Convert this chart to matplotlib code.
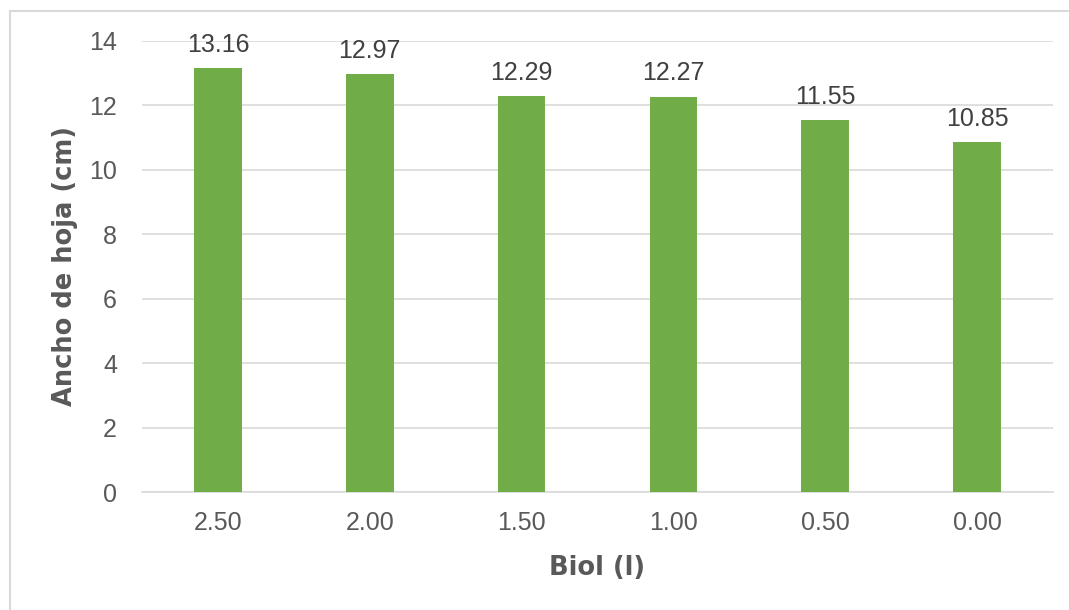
import matplotlib.pyplot as plt
from matplotlib.patches import Rectangle

# Ancho de hoja por dosis de biol
dosis = ["2.50", "2.00", "1.50", "1.00", "0.50", "0.00"]
ancho = [13.16, 12.97, 12.29, 12.27, 11.55, 10.85]

plt.rcParams["font.family"] = ["Liberation Sans", "DejaVu Sans"]
gris = "#595959"

fig = plt.figure(figsize=(10.69, 6.10), dpi=100)
ax = fig.add_axes([142 / 1069, 1 - 492 / 610, 911 / 1069, 451 / 610])

x = range(len(dosis))
bars = ax.bar(x, ancho, width=0.315, color="#70ad47", zorder=3)
for b, v in zip(bars, ancho):
    ax.text(b.get_x() + b.get_width() / 2, v + 0.35, f"{v:.2f}",
            ha="center", va="bottom", fontsize=18, color="#404040")

ax.set_xlim(-0.5, len(dosis) - 0.5)
ax.set_ylim(0, 14)
ax.set_yticks(range(0, 15, 2))
ax.set_xticks(list(x))
ax.set_xticklabels(dosis)
ax.yaxis.grid(True, color="#d9d9d9", linewidth=1.2, zorder=0)
ax.tick_params(axis="both", length=0, labelsize=18, labelcolor=gris)
ax.tick_params(axis="x", pad=14)
ax.tick_params(axis="y", pad=18)
for s in ["top", "right", "left"]:
    ax.spines[s].set_visible(False)
ax.spines["bottom"].set_color("#d9d9d9")
ax.spines["bottom"].set_linewidth(1.2)

ax.set_xlabel("Biol (l)", fontsize=18.5, fontweight="heavy", color=gris,
              family="DejaVu Sans", labelpad=14)
ax.set_ylabel("Ancho de hoja (cm)", fontsize=18.5, fontweight="heavy", color=gris,
              family="DejaVu Sans", labelpad=8)

# marco exterior
fig.patches.append(Rectangle((10 / 1069, -0.1), 1.2, 1 - 11 / 610 + 0.1,
                             transform=fig.transFigure, fill=False,
                             edgecolor="#d9d9d9", linewidth=1.5))

fig.savefig("out.png", dpi=100)
